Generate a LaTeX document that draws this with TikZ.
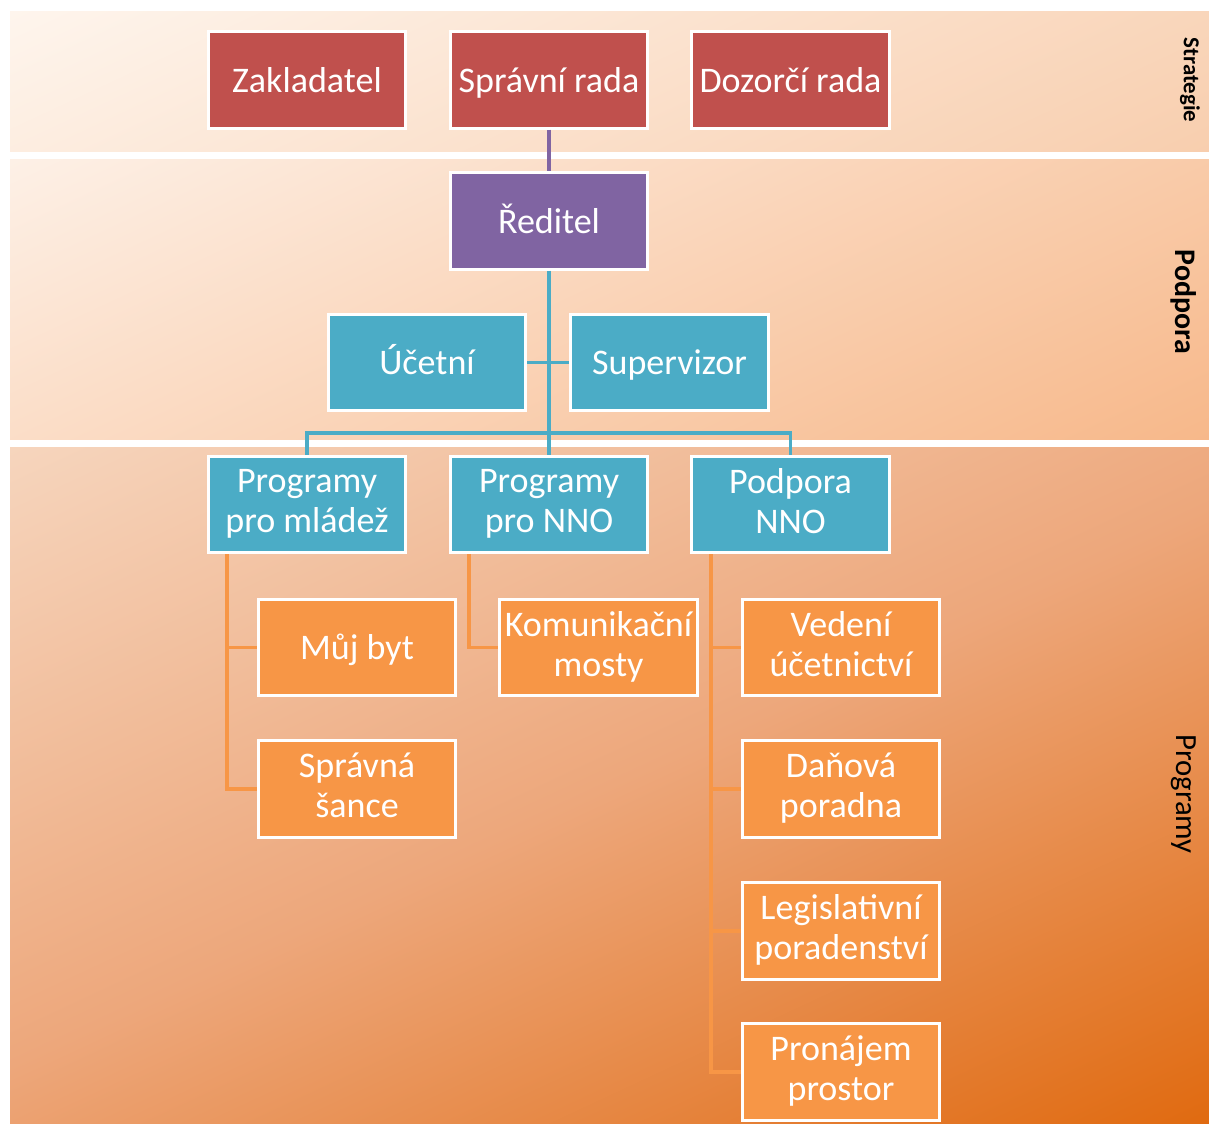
\documentclass[tikz,border=0pt]{standalone}
\usepackage{fontspec}
\setmainfont{Carlito}
\usetikzlibrary{positioning}

\definecolor{boardred}{HTML}{C0504D}
\definecolor{headviolet}{HTML}{8064A2}
\definecolor{staffblue}{HTML}{4BACC6}
\definecolor{projorange}{HTML}{F79646}

\definecolor{stratlight}{RGB}{254,245,237}
\definecolor{stratdark}{RGB}{248,206,174}
\definecolor{podlight}{RGB}{253,240,230}
\definecolor{poddark}{RGB}{247,184,138}
\definecolor{proglight}{RGB}{246,213,189}
\definecolor{progmid}{RGB}{237,167,123}
\definecolor{progdark}{RGB}{224,106,16}

\pgfdeclareverticalshading{stratfade}{100bp}{color(0bp)=(stratdark); color(36.8bp)=(stratdark); color(63.2bp)=(stratlight); color(100bp)=(stratlight)}
\pgfdeclareverticalshading{podfade}{100bp}{color(0bp)=(poddark); color(34.2bp)=(poddark); color(65.8bp)=(podlight); color(100bp)=(podlight)}
\pgfdeclareverticalshading{progfade}{100bp}{color(0bp)=(progdark); color(26.7bp)=(progdark); color(50bp)=(progmid); color(73.3bp)=(proglight); color(100bp)=(proglight)}

\tikzset{
unit/.style={draw=white, line width=1.6pt, text=white, minimum width=3.95cm, minimum height=1.93cm, inner sep=0pt, align=center, font=\fontsize{20.5}{22.8}\selectfont, execute at begin node={\rule{0pt}{18.3pt}}, execute at end node={\rule[-4.5pt]{0pt}{4.5pt}}},
board/.style={unit, fill=boardred},
head/.style={unit, fill=headviolet},
staff/.style={unit, fill=staffblue},
project/.style={unit, fill=projorange},
link/.style={line width=2.2pt},
tier/.style={rotate=-90, text=black, inner sep=0pt}
}

\begin{document}
\begin{tikzpicture}[x=0.02cm, y=-0.02cm]
\useasboundingbox (0,0) rectangle (1209,1124);

\begin{scope}
\clip (10,12) rectangle (1209,152);
\shade[shading=stratfade, shading angle=25] (9.5,-518) rectangle (1209.5,682);
\end{scope}
\begin{scope}
\clip (10,160) rectangle (1209,440);
\shade[shading=podfade, shading angle=25] (9.5,-300) rectangle (1209.5,900);
\end{scope}
\begin{scope}
\clip (10,448) rectangle (1209,1124);
\shade[shading=progfade, shading angle=25] (9.5,186) rectangle (1209.5,1386);
\end{scope}

\node (t0) at (1190,80) [tier, font=\fontsize{13}{15}\selectfont\bfseries] {Strategie};
\node (t1) at (1184,302) [tier, font=\fontsize{17}{19}\selectfont\bfseries] {Podpora};
\node (t2) at (1184,794) [tier, font=\fontsize{17.5}{19}\selectfont] {Programy};

\coordinate (c0) at (307,80);
\coordinate (c1) at (549,80);
\coordinate (c2) at (790.5,80);
\coordinate (c3) at (549,221);
\coordinate (c4) at (427,362.5);
\coordinate (c5) at (669.5,362.5);
\coordinate (c6) at (307,504.5);
\coordinate (c7) at (549,504.5);
\coordinate (c8) at (790.5,504.5);

\node (b0) at (c0) [board] {Zakladatel};
\node (b1) at (c1) [board] {Správní rada};
\node (b2) at (c2) [board] {Dozorčí rada};
\node (d0) at (c3) [head] {Ředitel};
\node (s0) at (c4) [staff] {Účetní};
\node (s1) at (c5) [staff] {Supervizor};
\node (p0) at (c6) [staff] {Programy\\pro mládež};
\node (p1) at (c7) [staff] {Programy\\pro NNO};
\node (p2) at (c8) [staff] {Podpora\\NNO};

\node (m0) at (357,647.5) [project] {Můj byt};
\node (m1) at (357,789) [project] {Správná\\šance};
\node (n0) at (598.5,647.5) [project] {Komunikační\\mosty};
\node (k0) at (841,647.5) [project] {Vedení\\účetnictví};
\node (k1) at (841,789) [project] {Daňová\\poradna};
\node (k2) at (841,931) [project] {Legislativní\\poradenství};
\node (k3) at (841,1072) [project] {Pronájem\\prostor};

\coordinate (bus) at (549,433);
\coordinate (r0) at (227,554);
\coordinate (r1) at (469,554);
\coordinate (r2) at (711,554);

\draw[link, headviolet] (b1) -- (d0);
\draw[link, staffblue] (d0) -- (p1);
\draw[link, staffblue] (s0) -- (s1);
\draw[link, staffblue] (p0.north) |- (bus) -| (p2.north);

\foreach \x in {0,1} {
\draw[link, projorange] (r0) |- (m\x.west);
}
\draw[link, projorange] (r1) |- (n0.west);
\foreach \x in {0,1,2,3} {
\draw[link, projorange] (r2) |- (k\x.west);
}
\end{tikzpicture}
\end{document}
